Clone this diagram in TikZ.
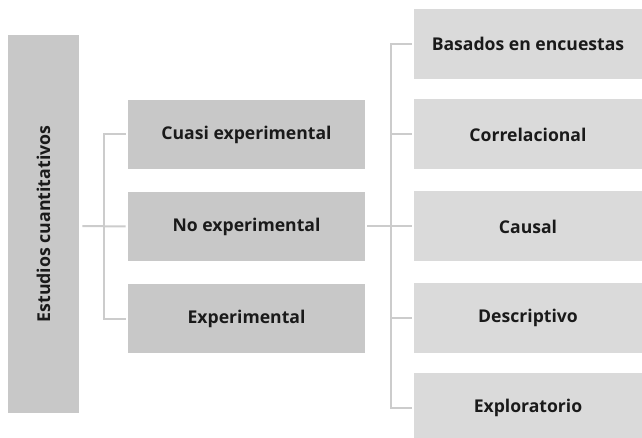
\documentclass[tikz,border=0pt]{standalone}
\usepackage{fontspec}
\setmainfont{Open Sans}
\usepackage{tikz}

\definecolor{boxdark}{HTML}{C8C8C8}
\definecolor{boxlight}{HTML}{DADADA}
\definecolor{linkgray}{HTML}{CCCCCC}
\definecolor{txt}{HTML}{1A1A1A}

\begin{document}
\begin{tikzpicture}[x=0.75pt, y=-0.75pt,
    rootbox/.style={fill=boxdark, inner sep=0, minimum width=53.25pt, minimum height=283.5pt, text=txt, font=\bfseries\fontsize{13.3}{15}\selectfont},
    midbox/.style={fill=boxdark, inner sep=0, minimum width=177.75pt, minimum height=51.75pt, text=txt, font=\bfseries\fontsize{13.2}{15}\selectfont},
    leafbox/.style={fill=boxlight, inner sep=0, minimum width=171pt, minimum height=52.5pt, text=txt, font=\bfseries\fontsize{13.2}{15}\selectfont},
    link/.style={-, line width=1.5pt, color=linkgray}]
\clip (0, 0) rectangle (642, 438);
\useasboundingbox (0, 0) rectangle (642, 438);

\node[rootbox] (root) at (43.5, 224) {\rotatebox{90}{Estudios cuantitativos}};

\node[midbox] (cuasi) at (246.5, 134.5) {Cuasi experimental};
\node[midbox] (noexp) at (246.5, 226.5) {No experimental};
\node[midbox] (exper) at (246.5, 318.5) {Experimental};

\node[leafbox] (basados) at (528, 44) {Basados en encuestas};
\node[leafbox] (correl) at (528, 134.5) {Correlacional};
\node[leafbox] (causal) at (528, 226.5) {Causal};
\node[leafbox] (descr) at (528, 317.5) {Descriptivo};
\node[leafbox] (explo) at (528, 408) {Exploratorio};

\coordinate (jleft) at (104, 226);
\coordinate (jright) at (391, 226);

\draw[link] ([xshift=2.25pt]root.east |- jleft) -- ([xshift=-1.5pt]noexp.west);
\draw[link] ([xshift=-1.5pt]cuasi.west) -| (jleft) |- ([xshift=-1.5pt]exper.west);

\draw[link] ([xshift=1.5pt]noexp.east) -- ([xshift=-1.5pt]causal.west);
\draw[link] ([xshift=-1.5pt]basados.west) -| (jright) |- ([xshift=-1.5pt]explo.west);
\draw[link] ([xshift=-1.5pt]correl.west) -- (correl.west -| jright);
\draw[link] ([xshift=-1.5pt]descr.west) -- (descr.west -| jright);

\end{tikzpicture}
\end{document}
